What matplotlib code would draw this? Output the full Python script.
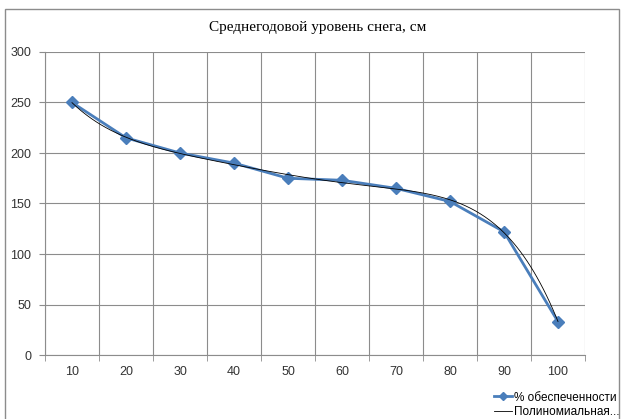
import numpy as np
import matplotlib.pyplot as plt
from matplotlib.patches import Rectangle

# данные
categories = ['10', '20', '30', '40', '50', '60', '70', '80', '90', '100']
snow_level = [250, 215, 200, 190, 175, 173, 165, 152, 122, 33]
y_ticks = [0, 50, 100, 150, 200, 250, 300]

fig = plt.figure(figsize=(6.25, 4.19), dpi=100)
fig.patch.set_facecolor('white')

# рамка диаграммы
fig.add_artist(Rectangle((5 / 625, -0.01), 614 / 625, 1 - 9 / 419 + 0.01,
                         transform=fig.transFigure, fill=False,
                         edgecolor='#8c8c8c', linewidth=1.0))

ax = fig.add_axes([45 / 625, 1 - 355 / 419, 540 / 625, 303 / 419])

x = np.arange(1, len(categories) + 1)

# полиномиальный тренд
coef = np.polyfit(x, snow_level, 5)
xs = np.linspace(1, len(categories), 300)
ax.plot(xs, np.polyval(coef, xs), color='black', linewidth=0.6, zorder=4,
        label='Полиномиальная...')

ax.plot(x, snow_level, color='#4a7ebb', linewidth=2.0, marker='D',
        markersize=6, zorder=3, label='% обеспеченности')

ax.set_xlim(0.5, len(categories) + 0.5)
ax.set_ylim(0, 300)
ax.set_yticks(y_ticks)
ax.set_xticks(x)
ax.set_xticklabels(categories)
ax.set_xticks(np.arange(0.5, len(categories) + 1), minor=True)

ax.grid(True, which='minor', axis='x', color='#8c8c8c', linewidth=0.8)
ax.grid(True, which='major', axis='y', color='#8c8c8c', linewidth=0.8)
ax.tick_params(axis='x', which='major', length=0, pad=8)
ax.tick_params(axis='x', which='minor', length=4, color='#8c8c8c')
ax.tick_params(axis='y', length=4, color='#8c8c8c', pad=6)
for lab in ax.get_xticklabels() + ax.get_yticklabels():
    lab.set_fontfamily('Liberation Sans')
    lab.set_fontsize(9)
    lab.set_color('#333333')

for side in ['top', 'right']:
    ax.spines[side].set_visible(False)
for side in ['left', 'bottom']:
    ax.spines[side].set_color('#8c8c8c')

fig.text(318 / 625, 1 - 28 / 419, 'Среднегодовой уровень снега, см',
         ha='center', va='center', fontsize=11, family='Liberation Serif')

handles, labels = ax.get_legend_handles_labels()
fig.legend(handles[::-1], labels[::-1], loc='lower left',
           bbox_to_anchor=(492 / 625, -0.003), frameon=False,
           prop={'family': 'Liberation Sans', 'size': 8.5},
           handlelength=1.5, handletextpad=0.15, labelspacing=0.2,
           markerscale=0.7, borderpad=0.2, borderaxespad=0)

fig.savefig('out.png', dpi=100)
